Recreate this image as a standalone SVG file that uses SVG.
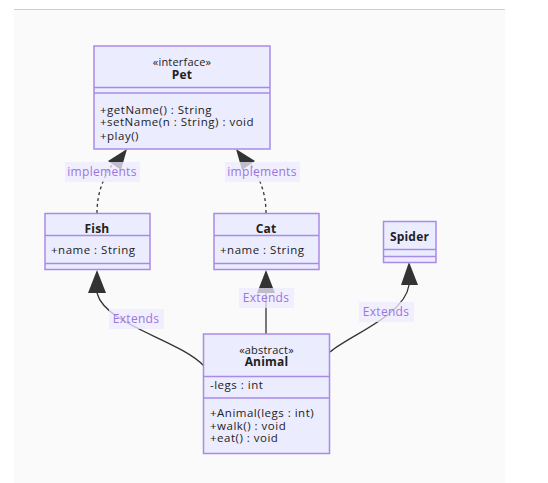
<svg xmlns="http://www.w3.org/2000/svg" width="548" height="483" viewBox="0 0 548 483">
<defs>
<style>
.box{fill:#ECECFF;stroke:#a98be6;stroke-width:1.5}
.div{stroke:#a98be6;stroke-width:1.5}
text{font-family:"Open Sans","DejaVu Sans",sans-serif;font-size:11.5px;letter-spacing:0.5px;fill:#222}
.t{font-weight:bold;text-anchor:middle;letter-spacing:0.2px;font-size:12px}
.st{text-anchor:middle;font-size:11px;letter-spacing:0.2px}
.edge{fill:none;stroke:#333;stroke-width:1.3}
.dash{stroke-dasharray:3,3}
.lbg{fill:#eeeaff;opacity:0.75}
.lbl{fill:#9a76e0;text-anchor:middle;font-size:12px;letter-spacing:0.3px}
.head{fill:#333}
</style>
</defs>
<rect x="0" y="0" width="548" height="483" fill="#ffffff"/>
<rect x="14" y="9" width="491" height="474" fill="#fafafa"/>
<line x1="14" y1="9.5" x2="505" y2="9.5" stroke="#d0d0d0" stroke-width="1"/>
<g id="connectors">
<path class="edge dash" d="M97,213 C97,195 102,180 112,165"/>
<polygon class="head" points="127,149 108,161 121,170"/>
<path class="edge dash" d="M266,213 C266,195 261,180 251,165"/>
<polygon class="head" points="236,149 242,170 255,161"/>
<path class="edge" d="M97,293 C105,325 180,340 204,366"/>
<polygon class="head" points="97,270 88,293 106,293"/>
<path class="edge" d="M266,334 L266,293"/>
<polygon class="head" points="266,270 257,293 275,293"/>
<path class="edge" d="M409,285 C405,315 350,335 330,352"/>
<polygon class="head" points="409,262 401,285 418,285"/>
<rect class="lbg" x="65" y="162" width="75" height="20"/>
<text class="lbl" x="102" y="176">implements</text>
<rect class="lbg" x="225" y="162" width="75" height="20"/>
<text class="lbl" x="262" y="176">implements</text>
<rect class="lbg" x="109" y="309" width="55" height="20"/>
<text class="lbl" x="136" y="323">Extends</text>
<rect class="lbg" x="239" y="288" width="55" height="20"/>
<text class="lbl" x="266" y="302">Extends</text>
<rect class="lbg" x="359" y="302" width="55" height="20"/>
<text class="lbl" x="386" y="316">Extends</text>
</g>
<g id="Pet">
<rect class="box" x="94" y="46" width="176" height="103"/>
<line class="div" x1="94" y1="87.5" x2="270" y2="87.5"/>
<line class="div" x1="94" y1="93" x2="270" y2="93"/>
<text class="st" x="182" y="66">«interface»</text>
<text class="t" x="182" y="78.5">Pet</text>
<text x="100" y="114">+getName() : String</text>
<text x="100" y="126">+setName(n : String) : void</text>
<text x="100" y="139.5">+play()</text>
</g>
<g id="Fish">
<rect class="box" x="45" y="213.5" width="105" height="56"/>
<line class="div" x1="45" y1="235.5" x2="150" y2="235.5"/>
<line class="div" x1="45" y1="263.5" x2="150" y2="263.5"/>
<text class="t" x="97" y="232.5">Fish</text>
<text x="51" y="254">+name : String</text>
</g>
<g id="Cat">
<rect class="box" x="214" y="213.5" width="105" height="56"/>
<line class="div" x1="214" y1="235.5" x2="319" y2="235.5"/>
<line class="div" x1="214" y1="263.5" x2="319" y2="263.5"/>
<text class="t" x="266" y="232.5">Cat</text>
<text x="220" y="254">+name : String</text>
</g>
<g id="Spider">
<rect class="box" x="383.5" y="221.5" width="52.5" height="41"/>
<line class="div" x1="383.5" y1="249.5" x2="436" y2="249.5"/>
<line class="div" x1="383.5" y1="256.5" x2="436" y2="256.5"/>
<text class="t" x="409.5" y="240.5">Spider</text>
</g>
<g id="Animal">
<rect class="box" x="203.5" y="334" width="126" height="119.5"/>
<line class="div" x1="203.5" y1="376.5" x2="329.5" y2="376.5"/>
<line class="div" x1="203.5" y1="398" x2="329.5" y2="398"/>
<text class="st" x="266.5" y="353.5">«abstract»</text>
<text class="t" x="266.5" y="366">Animal</text>
<text x="210" y="389">-legs : int</text>
<text x="210" y="417">+Animal(legs : int)</text>
<text x="210" y="429.5">+walk() : void</text>
<text x="210" y="442">+eat() : void</text>
</g>
</svg>
